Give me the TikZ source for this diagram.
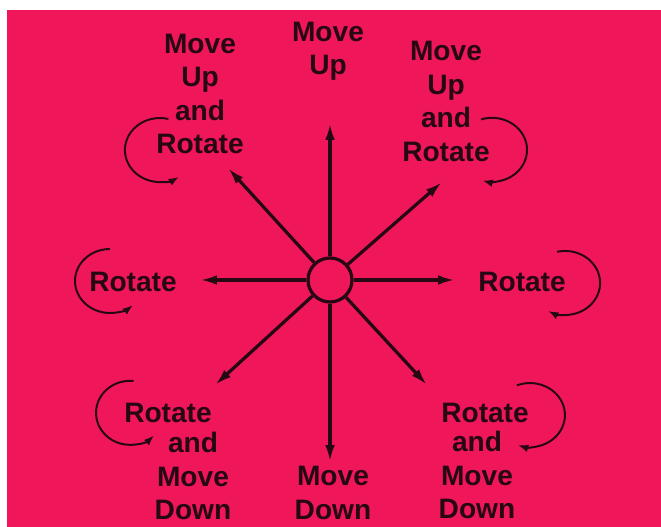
\documentclass[tikz,border=0pt]{standalone}
\usepackage{fontspec}
\setmainfont{Liberation Sans}
\usetikzlibrary{positioning, arrows.meta}
\definecolor{cardpink}{RGB}{240,22,90}
\definecolor{ink}{RGB}{38,8,20}

\begin{document}
\begin{tikzpicture}[
    font=\fontsize{20}{23.8}\selectfont\bfseries,
    arr/.style={-{Latex[length=4.2mm,width=2.4mm]}, line width=2.3pt, draw=ink},
    rarr/.style={-{Latex[length=2.6mm,width=1.9mm]}, line width=1.4pt, draw=ink},
    lbl/.style={align=center, text=ink, inner sep=0pt},
    hubnode/.style={circle, draw=ink, line width=2.3pt, minimum size=1.1cm, inner sep=0pt}
  ]
\useasboundingbox (0,0) rectangle (16.525,13.175);
% card background
\fill[cardpink] (0.175,0) rectangle (16.525,12.925);

% =================== hub + direction arrows ===================
\node[hubnode] (hub) at (8.25,6.175) {};

\coordinate (tipN)  at (8.25,10.1);
\coordinate (tipNE) at (11.05,8.625);
\coordinate (tipE)  at (11.375,6.175);
\coordinate (tipSE) at (10.675,3.55);
\coordinate (tipS)  at (8.25,1.625);
\coordinate (tipSW) at (5.375,3.55);
\coordinate (tipW)  at (5.0,6.175);
\coordinate (tipNW) at (5.7,8.975);

\foreach \t in {N,NE,E,SE,S,SW,W,NW}{
  \draw[arr] (hub) -- (tip\t);
}

% =================== labels ===================
\node[lbl] (lblN)  at (8.2,11.9)    {Move\\Up};
\node[lbl] (lblNW) at (5.0,10.825)  {Move\\Up\\and\\Rotate};
\node[lbl] (lblNE) at (11.15,10.64) {Move\\Up\\and\\Rotate};
\node[lbl] (lblW)  at (3.325,6.125) {Rotate};
\node[lbl] (lblE)  at (13.05,6.125) {Rotate};
\node[lbl] (lblSWrot) at (4.2,2.85)   {Rotate};
\node[lbl] (lblSW)    at (4.825,1.27) {and\\Move\\Down};
\node[lbl] (lblSErot) at (12.125,2.85) {Rotate};
\node[lbl] (lblSE)    at (11.925,1.29) {and\\Move\\Down};
\node[lbl] (lblS)  at (8.325,0.85)  {Move\\Down};

% =================== rotation arcs ===================
% left side: counter-clockwise, right side: clockwise
\draw[rarr] (4.21,10.2) arc[start angle=76, end angle=303, x radius=0.875, y radius=0.8];
\draw[rarr] (2.75,6.95) arc[start angle=90, end angle=311, x radius=0.875, y radius=0.8];
\draw[rarr] (3.34,3.65) arc[start angle=84, end angle=315, x radius=0.85, y radius=0.8];
\draw[rarr] (12.03,10.19) arc[start angle=108, end angle=-106, x radius=0.875, y radius=0.8];
\draw[rarr] (13.93,6.88) arc[start angle=103, end angle=-119, x radius=0.875, y radius=0.8];
\draw[rarr] (12.92,3.54) arc[start angle=112, end angle=-110, x radius=0.875, y radius=0.8];

\end{tikzpicture}
\end{document}
